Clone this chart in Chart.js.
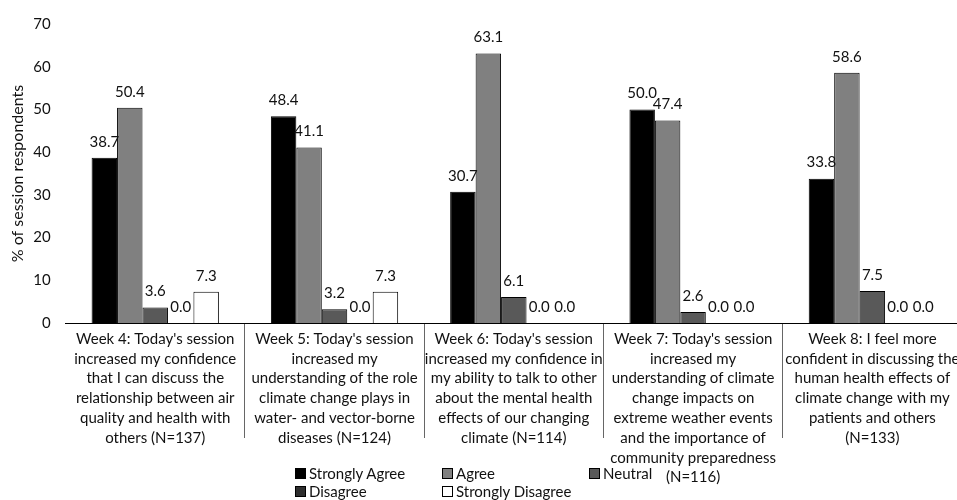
<!DOCTYPE html>
<html>
<head>
<meta charset="utf-8">
<script src="https://cdn.jsdelivr.net/npm/chart.js@4.4.1/dist/chart.umd.min.js"></script>
<style>
  html, body { margin: 0; padding: 0; background: #fff; overflow: hidden; }
  #wrap { position: relative; width: 962px; height: 500px; }
  #legend {
    position: absolute; left: 295px; top: 464px;
    display: grid; grid-template-columns: 147px 147px 147px;
    font: 15px Lato, sans-serif; color: #111;
  }
  .item { display: flex; align-items: center; height: 18px; white-space: nowrap; }
  .sw { width: 11px; height: 11px; border: 1px solid #000; box-sizing: border-box; margin-right: 3px; }
</style>
</head>
<body>
<div id="wrap">
  <canvas id="chart"></canvas>
  <div id="legend"></div>
</div>
<script>
// ═══ Session feedback bar chart ═══
const weekLabels = [
  ["Week 4: Today's session", "increased my confidence", "that I can discuss the", "relationship between air", "quality and health with", "others (N=137)"],
  ["Week 5: Today's session", "increased my", "understanding of the role", "climate change plays in", "water- and vector-borne", "diseases (N=124)"],
  ["Week 6: Today's session", "increased my confidence in", "my ability to talk to other", "about the mental health", "effects of our changing", "climate (N=114)"],
  ["Week 7: Today's session", "increased my", "understanding of climate", "change impacts on", "extreme weather events", "and the importance of", "community preparedness", "(N=116)"],
  ["Week 8: I feel more", "confident in discussing the", "human health effects of", "climate change with my", "patients and others", "(N=133)"],
];

const seriesNames = ["Strongly Agree", "Agree", "Neutral", "Disagree", "Strongly Disagree"];
const seriesColors = ["#000000", "#808080", "#595959", "#2e2e2e", "#ffffff"];

const stronglyAgree = [38.7, 48.4, 30.7, 50.0, 33.8];
const agree = [50.4, 41.1, 63.1, 47.4, 58.6];
const neutral = [3.6, 3.2, 6.1, 2.6, 7.5];
const disagree = [0.0, 0.0, 0.0, 0.0, 0.0];
const stronglyDisagree = [7.3, 7.3, 0.0, 0.0, 0.0];

const yMin = 0, yMax = 70, yStep = 10;
const yTitle = "% of session respondents";

const FONT = "Lato, sans-serif";
const TEXT = "#111";

const seriesValues = [stronglyAgree, agree, neutral, disagree, stronglyDisagree];

// value labels over each bar
const valueLabels = {
  id: "valueLabels",
  afterDatasetsDraw(chart) {
    const ctx = chart.ctx;
    ctx.save();
    ctx.font = `15px ${FONT}`;
    ctx.fillStyle = TEXT;
    ctx.textAlign = "center";
    ctx.textBaseline = "middle";
    chart.data.datasets.forEach((ds, i) => {
      chart.getDatasetMeta(i).data.forEach((bar, j) => {
        ctx.fillText(ds.data[j].toFixed(1), bar.x, bar.y - 16);
      });
    });
    ctx.restore();
  },
};

new Chart(document.getElementById("chart"), {
  type: "bar",
  data: {
    labels: weekLabels,
    datasets: seriesNames.map((name, i) => ({
      label: name,
      data: seriesValues[i],
      backgroundColor: seriesColors[i],
      borderColor: "#000",
      borderWidth: (c) => (c.raw === 0 ? 0 : 1),
      barPercentage: 1,
      categoryPercentage: 0.71,
    })),
  },
  options: {
    responsive: true,
    maintainAspectRatio: false,
    animation: false,
    layout: { padding: { top: 8, right: 0, bottom: 0, left: 0 } },
    plugins: { legend: { display: false }, tooltip: { enabled: false } },
    scales: {
      x: {
        border: { display: true, color: "#000", width: 1 },
        grid: {
          offset: true,
          drawOnChartArea: false,
          tickLength: 115,
          color: (c) => (c.index === 0 ? "rgba(0,0,0,0)" : "#666"),
        },
        ticks: {
          color: TEXT,
          font: { family: FONT, size: 15, lineHeight: 1.32 },
          padding: -109,
          maxRotation: 0,
          autoSkip: false,
        },
        // keep the label box tall so long labels are not clipped
        afterFit: (scale) => { scale.height = 177; },
      },
      y: {
        min: yMin,
        max: yMax,
        border: { display: false },
        grid: { display: false, drawTicks: false },
        ticks: { stepSize: yStep, color: TEXT, font: { family: FONT, size: 15 }, padding: 15 },
        title: { display: true, text: yTitle, color: TEXT, font: { family: FONT, size: 16 }, padding: { top: 8, bottom: -9 } },
      },
    },
  },
  plugins: [valueLabels],
});

// legend in three fixed columns
const legend = document.getElementById("legend");
seriesNames.forEach((name, i) => {
  const item = document.createElement("div");
  item.className = "item";
  item.innerHTML = `<span class="sw" style="background:${seriesColors[i]}"></span>${name}`;
  legend.appendChild(item);
});
</script>
</body>
</html>
